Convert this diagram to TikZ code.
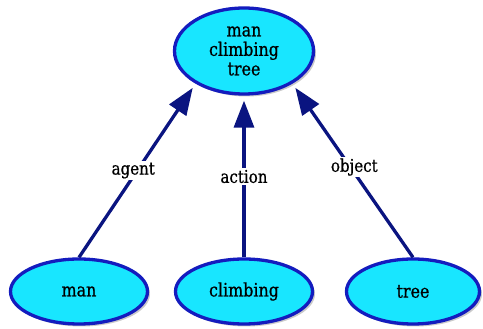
\documentclass[tikz,border=0pt]{standalone}
\usepackage{fontspec}
\setmainfont[FakeStretch=0.86, FakeBold=0.8]{DejaVu Serif}
\usetikzlibrary{shapes.geometric,arrows.meta,shadows}
\definecolor{conceptfill}{RGB}{24,230,255}
\definecolor{conceptborder}{RGB}{20,28,190}
\definecolor{linkline}{RGB}{10,20,128}
\tikzset{
  concept/.style={ellipse, draw=conceptborder, line width=3.3pt, fill=conceptfill,
    inner sep=0pt, align=center, font=\fontsize{18.5}{19.5}\selectfont,
    drop shadow={shadow xshift=2.5pt, shadow yshift=-2.5pt, opacity=0.35, fill=black!60}},
  link/.style={draw=linkline, line width=3.3pt,
    -{Triangle[length=27pt,width=20pt]}, shorten >=5pt},
  linklabel/.style={fill=white, inner sep=1.5pt, font=\fontsize{17.5}{19}\selectfont}
}
\begin{document}
\begin{tikzpicture}[x=1pt,y=1pt]
  \useasboundingbox (0,0) rectangle (483,329);
  % concepts
  \node[concept, minimum width=139pt, minimum height=86pt] (top) at (244,278)
    {man\\climbing\\tree};
  \node[concept, minimum width=137pt, minimum height=65pt] (man) at (79,37.5) {man};
  \node[concept, minimum width=137pt, minimum height=65pt] (climbing) at (244,37.5) {climbing};
  \node[concept, minimum width=133pt, minimum height=65pt] (tree) at (413,37.5) {tree};
  % linking phrases
  \draw[link] (man.north) -- node[linklabel, pos=0.5, xshift=-4pt] (agent) {agent} (top.214);
  \draw[link] (climbing.north) -- node[linklabel, pos=0.5] (action) {action} (top.south);
  \draw[link] (tree.north) -- node[linklabel, pos=0.52, xshift=4pt] (object) {object} (top.326);
\end{tikzpicture}
\end{document}
